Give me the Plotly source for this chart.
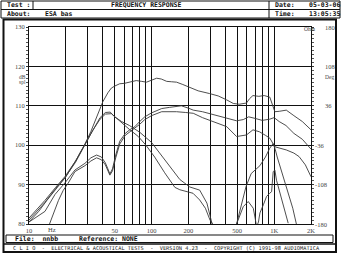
import plotly.graph_objects as go

# ---------------- data ----------------
x_tick_vals = [10, 50, 100, 200, 500, 1000, 2000]
x_tick_text = ["10", "50", "100", "200", "500", "1K", "2K"]
y_tick_vals = [80, 90, 100, 110, 120, 130]
phase_vals = [-180, -108, -36, 36, 108, 180]

A_f = [10, 12, 14, 17, 20, 24, 28.6, 32, 36, 40, 44, 47, 50, 55, 60, 67, 75, 83, 91, 100, 110, 120, 133, 146, 160,
       180, 205, 240, 298, 350, 410, 464, 520, 595, 630, 672, 750, 830, 922, 980, 1014, 1100, 1257, 1450, 1700, 2000]
A_db = [80.5, 83.2, 86, 89.2, 92, 96, 100.3, 103.5, 107.5, 111, 113.3, 114.5, 115, 115.6, 115.7, 116, 116.4, 116.2,
        116, 116.5, 117, 116.8, 116.2, 116.1, 116, 115.4, 114.6, 113.8, 113.1, 112.5, 111.5, 110.6, 110.4, 110.7,
        111.8, 112.6, 112.4, 112.6, 112.2, 110, 108.5, 108.6, 108.9, 107.5, 106, 103.9]

B_f = [10, 13.5, 16.5, 19.6, 24, 28.6, 33, 38, 42, 46, 50, 57, 66, 80, 100, 120, 150, 170, 205, 247, 283, 312]
B_db = [81.5, 86, 89.3, 92, 96, 100.2, 104, 107, 108.3, 108.4, 107.2, 106, 105, 103.3, 100.7, 97.5, 93.3, 91.3,
        89.4, 88.6, 85.3, 80]

C_f = [10, 13.5, 16.5, 19.6, 24, 28.6, 33, 38, 42, 47, 52, 57, 66, 78, 90, 106, 128, 155, 170, 195, 218, 247, 275,
       300, 315]
C_db = [81, 85.5, 89, 91.7, 95.7, 100, 103.7, 106.6, 107.9, 108, 106.8, 105.5, 104, 102.2, 100, 97, 93, 89.3, 88.7,
        88.2, 87.8, 86.1, 84, 81, 80]

D_f = [10, 13.5, 16.3, 19.6, 23.7, 28.6, 32, 35.6, 39, 42, 44, 45.7, 48, 51, 55, 61, 67, 73, 80, 88, 100, 121, 140,
       155, 175, 200, 219, 260, 300, 340, 420, 494, 560, 620, 700, 800, 920, 1000, 1100, 1250, 1450, 1700, 2000]
D_db = [80.5, 83.2, 87.5, 90.4, 93.7, 95.4, 96.8, 97.5, 97, 95.5, 94, 92.7, 94, 97.5, 101, 103, 104, 104.7, 106,
        107.2, 108.2, 109.3, 109.6, 109.8, 110, 109.4, 108.9, 108.5, 108, 107.6, 106.8, 106.2, 106.5, 107.2, 106.8,
        106.3, 106.6, 107, 106, 105, 103, 101.5, 99]

E_f = [14.5, 16, 17.4, 19, 20.9, 23.7, 28.6, 32, 35.6, 39, 42, 45.7, 48, 51, 55, 61, 67, 73, 80, 88, 100, 121, 140,
       160, 190, 219, 260, 320, 411, 494, 550, 595, 672, 760, 850, 922, 1014, 1100, 1257, 1450, 1600, 1800, 1950, 2000]
E_db = [79.5, 83, 86, 88.5, 90.4, 93.3, 94.8, 96, 96.8, 96.3, 95, 92.4, 93.5, 96.8, 100.3, 102.5, 103.5, 104.2,
        105.3, 106.5, 107.5, 108.5, 108.6, 108.5, 108.3, 108.1, 107, 106, 104.7, 102.2, 102.4, 102.6, 103.9, 103.4,
        102.5, 101.8, 99.6, 99.3, 98.8, 98, 97.1, 95, 92.5, 92]

F_f = [494, 545, 590, 650, 710, 766, 850, 920, 981, 1020, 1060, 1120, 1200, 1300, 1420, 1520]
F_db = [80, 85, 89.5, 92.8, 94, 94.8, 97, 99.2, 100.4, 99, 97, 94.5, 91.5, 88, 84, 80]

G_f = [494, 530, 560, 615, 676, 700, 720, 745, 766, 820, 868, 920, 954, 983, 1014, 1046, 1100, 1150, 1230, 1303]
G_db = [80, 82.5, 84.4, 85.7, 84, 81.5, 79.3, 80.5, 82.8, 85, 87, 87.8, 88.2, 93.3, 93.7, 91.1, 88.5, 86.1, 83, 80.2]

series = [(A_f, A_db), (B_f, B_db), (C_f, C_db), (D_f, D_db), (E_f, E_db), (F_f, F_db), (G_f, G_db)]

# ---------------- layout helpers ----------------
W, H = 342, 258
ML, MR, MT, MB = 29, 31, 27, 34
PW, PH = W - ML - MR, H - MT - MB


def px(x):
    return (x - ML) / PW


def py(y):
    return (H - MB - y) / PH


fig = go.Figure()
for f, d in series:
    fig.add_trace(go.Scatter(x=f, y=d, mode="lines", line=dict(color="#3a3a3a", width=0.9),
                             hoverinfo="skip", showlegend=False))
fig.add_trace(go.Scatter(x=[], y=[], yaxis="y2", showlegend=False))

grid_vals = []
for dec in [10, 100, 1000]:
    for m in range(1, 10):
        v = dec * m
        if v <= 2000:
            grid_vals.append(v)
grid_text = [x_tick_text[x_tick_vals.index(v)] if v in x_tick_vals else "" for v in grid_vals]

tick_font = dict(family="Liberation Serif", size=6.5, color="#444")

fig.update_layout(
    width=W, height=H,
    margin=dict(l=ML, r=MR, t=MT, b=MB, pad=0),
    paper_bgcolor="white", plot_bgcolor="white",
    xaxis=dict(type="log", range=[1, 3.30103], tickmode="array", tickvals=grid_vals, ticktext=grid_text,
               showgrid=True, gridcolor="#111", gridwidth=1, showline=True, linecolor="#111", linewidth=1,
               mirror=True, ticks="", tickfont=tick_font, zeroline=False),
    yaxis=dict(range=[80, 130], tickmode="array", tickvals=y_tick_vals, showgrid=True, gridcolor="#111",
               gridwidth=1, showline=True, linecolor="#111", linewidth=1, mirror="allticks", ticks="outside",
               ticklen=2, tickcolor="#333", tickfont=tick_font, zeroline=False,
               minor=dict(dtick=1, ticklen=2, ticks="outside", tickcolor="#555")),
    yaxis2=dict(range=[-180, 180], overlaying="y", side="right", visible=False),
    font=dict(family="Liberation Sans", color="#111"),
)

shapes = []
# header box
shapes.append(dict(type="rect", xref="paper", yref="paper", x0=px(1), x1=px(340), y0=py(1), y1=py(18),
                   line=dict(color="#111", width=1)))
shapes.append(dict(type="line", xref="paper", yref="paper", x0=px(1), x1=px(340), y0=py(9.5), y1=py(9.5),
                   line=dict(color="#111", width=1)))
shapes.append(dict(type="line", xref="paper", yref="paper", x0=px(269), x1=px(269), y0=py(1), y1=py(18),
                   line=dict(color="#111", width=1)))
shapes.append(dict(type="line", xref="paper", yref="paper", x0=px(33), x1=px(33), y0=py(1), y1=py(9.5),
                   line=dict(color="#111", width=1)))
# body frame
shapes.append(dict(type="rect", xref="paper", yref="paper", x0=px(3.5), x1=px(336), y0=py(19.5), y1=py(252),
                   line=dict(color="#111", width=2)))
# file box
shapes.append(dict(type="rect", xref="paper", yref="paper", x0=px(6), x1=px(333), y0=py(235), y1=py(242.5),
                   line=dict(color="#111", width=1)))
# footer separator
shapes.append(dict(type="line", xref="paper", yref="paper", x0=px(3.5), x1=px(336), y0=py(244), y1=py(244),
                   line=dict(color="#111", width=1.5)))

hdr = dict(family="DejaVu Sans Mono", size=6.5, color="#111")
ann = []


def text(x, y, t, font, xanchor="left"):
    ann.append(dict(xref="paper", yref="paper", x=px(x), y=py(y), text=t, showarrow=False, xanchor=xanchor,
                    yanchor="middle", font=font))


text(5, 5.3, "<b>Test :</b>", hdr)
text(146, 5.3, "<b>FREQUENCY RESPONSE</b>", hdr, "center")
text(273, 5.3, "<b>Date:</b>", hdr)
text(307, 5.3, "<b>05-03-06</b>", hdr)
text(5, 13.7, "<b>About:</b>", hdr)
text(43, 13.7, "<b>ESA bas</b>", hdr)
text(273, 13.7, "<b>Time:</b>", hdr)
text(307, 13.7, "<b>13:05:35</b>", hdr)
text(13, 238.8, "<b>File:  nnbb</b>", hdr)
text(77, 238.8, "<b>Reference: NONE</b>", hdr)
text(166, 248, "C L I O  -  ELECTRICAL &amp; ACOUSTICAL TESTS  -  VERSION 4.23  -  COPYRIGHT (C) 1991-98 AUDIOMATICA",
     dict(family="DejaVu Sans Mono", size=5.3, color="#222"), "center")

small = dict(family="Liberation Serif", size=5.5, color="#444")
text(22, 76.7, "dB", small, "center")
text(22, 82, "spl", small, "center")
text(46, 229.5, "Hz", tick_font, "left")
text(323, 77, "Deg", small)
text(301.5, 28.8, "Ohm", small)

# right phase axis labels
for v in phase_vals:
    ann.append(dict(xref="paper", yref="y2", x=px(323 if v > 0 else 312.5), y=v, text=str(v), showarrow=False,
                    xanchor="left", yanchor="middle", font=tick_font))

fig.update_layout(shapes=shapes, annotations=ann)
fig.write_html("out.html")
